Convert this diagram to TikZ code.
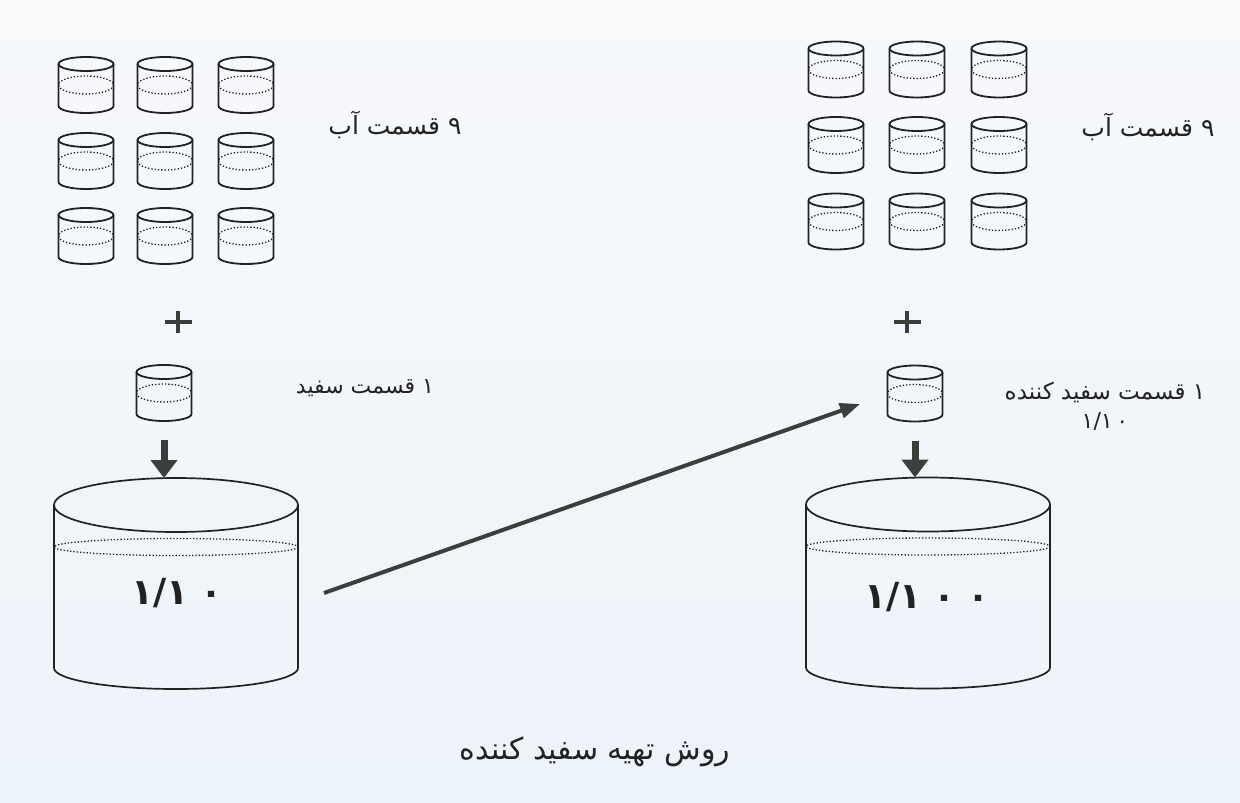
\documentclass[tikz,border=0pt]{standalone}
\usepackage{fontspec}
\usetikzlibrary{arrows.meta}
\TeXXeTstate=1
\newfontfamily\arabicfont[Script=Arabic]{DejaVu Sans}

\definecolor{paperTop}{HTML}{F7F9FB}
\definecolor{paperBot}{HTML}{EDF3FA}
\definecolor{ink}{HTML}{222222}
\definecolor{arrowink}{HTML}{3A3F3B}

\tikzset{
    can/.pic={
        \draw[ink,line width=1.8pt] (-27.5,-21) -- (-27.5,21)
            arc[start angle=180,end angle=0,x radius=27.5,y radius=7] -- (27.5,-21);
        \draw[ink,line width=1.8pt] (0,-21) ellipse[x radius=27.5,y radius=7];
        \draw[ink,line width=1.3pt,dotted] (0,0) ellipse[x radius=27.5,y radius=9];
        \coordinate (-bot) at (0,28);
    },
    tank/.pic={
        \draw[ink,line width=1.7pt] (-122,-81.5) -- (-122,81.5)
            arc[start angle=180,end angle=0,x radius=122,y radius=21] -- (122,-81.5);
        \draw[ink,line width=1.7pt] (0,-81.5) ellipse[x radius=122,y radius=27];
        \draw[ink,line width=1.3pt,dotted] (0,-39.5) ellipse[x radius=122,y radius=8.5];
        \coordinate (-rim) at (0,-108.5);
    },
    label/.style={font=\arabicfont\fontsize{22}{26}\selectfont,text=ink,inner sep=0pt},
    ratio/.style={font=\arabicfont\bfseries\fontsize{36}{40}\selectfont,text=ink,inner sep=0pt},
    drop/.style={arrowink,line width=7pt,-{Triangle[width=26pt,length=18pt]}},
    feed/.style={arrowink,line width=4pt,-{Triangle[width=15pt,length=20pt]}},
    plus/.style={arrowink,line width=4.5pt}
}

\begin{document}
\begin{tikzpicture}[x=1pt,y=-1pt]
    \shade[top color=paperTop,bottom color=paperBot] (0,0) rectangle (1240,803);

    % left: nine parts water
    \pic (lA) at (86,85)  {can};
    \pic (lB) at (165,85) {can};
    \pic (lC) at (246,85) {can};
    \pic (lD) at (86,161)  {can};
    \pic (lE) at (165,161) {can};
    \pic (lF) at (246,161) {can};
    \pic (lG) at (86,236)  {can};
    \pic (lH) at (165,236) {can};
    \pic (lI) at (246,236) {can};
    \node[label,font=\arabicfont\fontsize{25}{30}\selectfont] (lWater) at (395,125) {\beginR ۹ قسمت آب\endR};

    \draw[plus] (164.5,322) -- (191.5,322) (178,311) -- (178,333);
    \pic (lOne) at (164,393) {can};
    \node[label] (lBleach) at (365,388) {\beginR ۱ قسمت سفید\endR};

    \pic (lTank) at (176,586.5) {tank};
    \node[ratio] (lRatio) at (177,593) {۱/۱\,\,۰};
    \draw[drop] ([yshift=-19pt]lOne-bot) -- (lOne-bot |- lTank-rim);

    % right: nine parts water
    \pic (rA) at (836,69.5)  {can};
    \pic (rB) at (917,69.5)  {can};
    \pic (rC) at (999,69.5)  {can};
    \pic (rD) at (836,145)   {can};
    \pic (rE) at (917,145)   {can};
    \pic (rF) at (999,145)   {can};
    \pic (rG) at (836,221.5) {can};
    \pic (rH) at (917,221.5) {can};
    \pic (rI) at (999,221.5) {can};
    \node[label,font=\arabicfont\fontsize{25}{30}\selectfont] (rWater) at (1148,127) {\beginR ۹ قسمت آب\endR};

    \draw[plus] (893.5,322) -- (920.5,322) (907,311) -- (907,333);
    \pic (rOne) at (915,393.5) {can};
    \node[label,font=\arabicfont\fontsize{23}{27}\selectfont] (rBleach) at (1105,392) {\beginR ۱ قسمت سفید کننده\endR};
    \node[label] (rFrac) at (1105,421) {۱/۱\,۰};

    \pic (rTank) at (928,586) {tank};
    \node[ratio] (rRatio) at (927,597) {۱/۱\,\,۰\,\,۰};
    \draw[drop] ([yshift=-19pt]rOne-bot) -- (rOne-bot |- rTank-rim);

    % dilution carried over
    \coordinate (tail) at (324,593);
    \coordinate (head) at (860,404);
    \draw[feed] (tail) -- (head);

    \node[label,font=\arabicfont\fontsize{30}{36}\selectfont] (caption) at (595,752) {\beginR روش تهیه سفید کننده\endR};
\end{tikzpicture}
\end{document}
